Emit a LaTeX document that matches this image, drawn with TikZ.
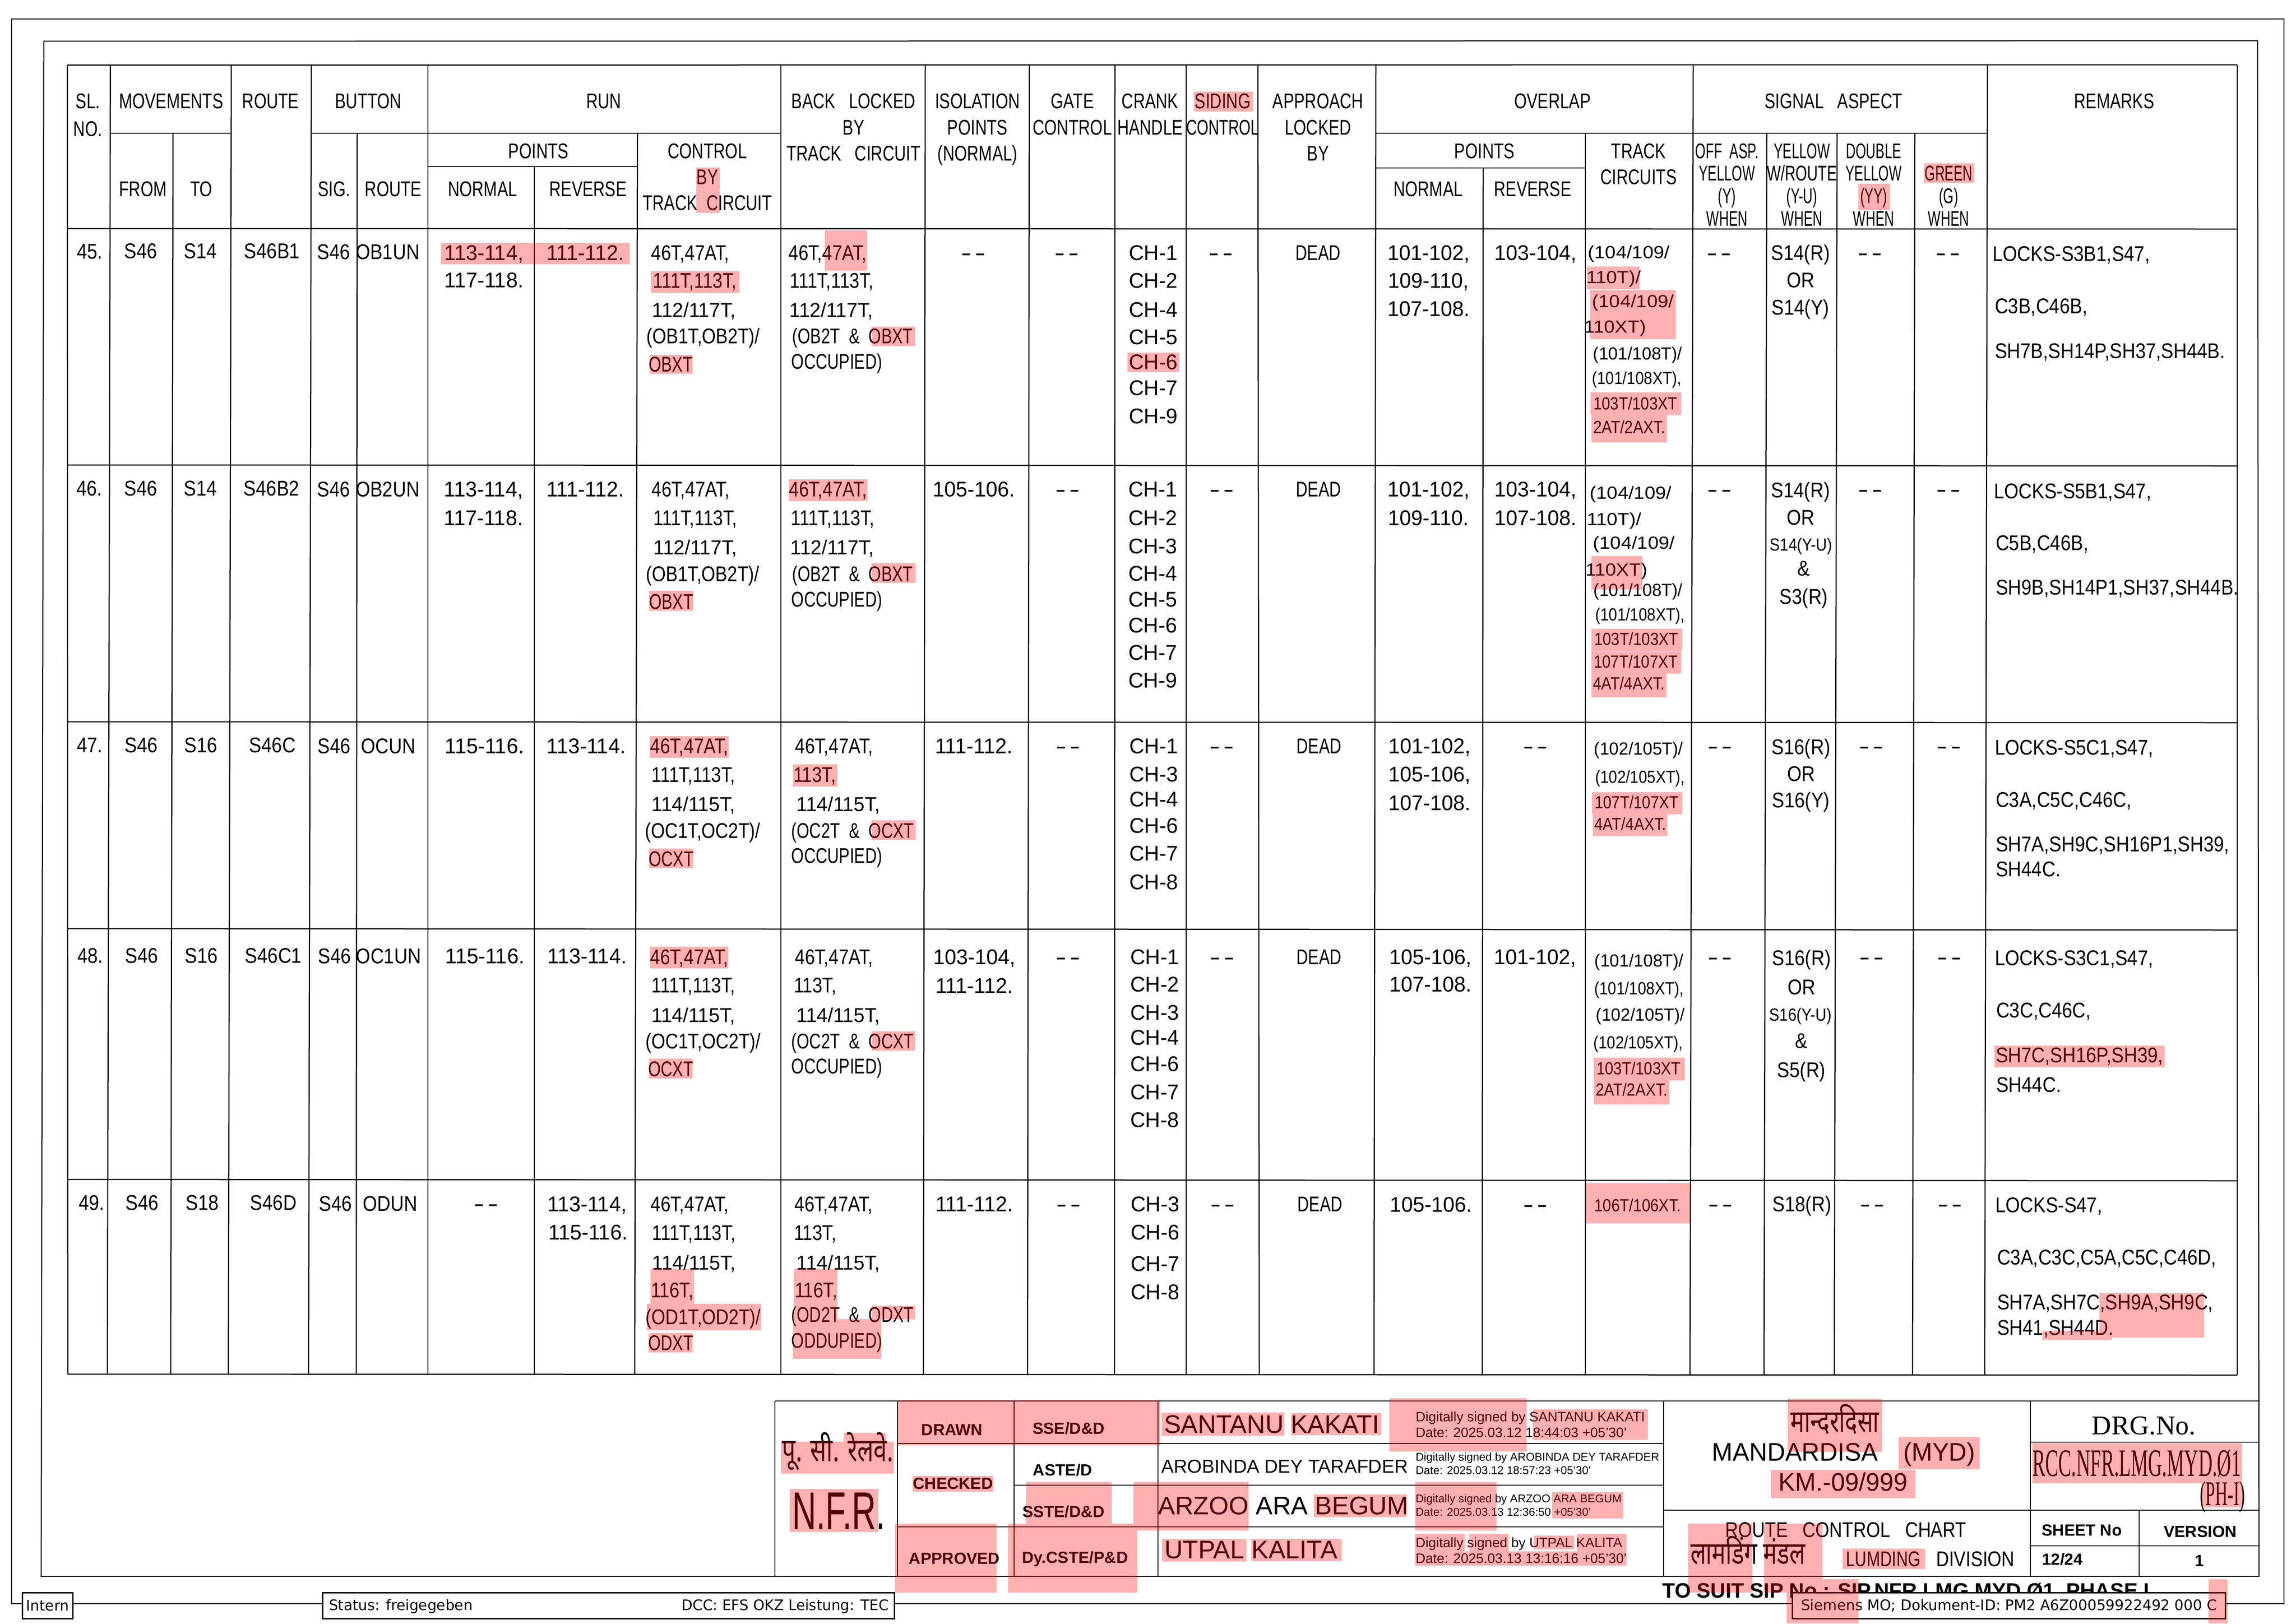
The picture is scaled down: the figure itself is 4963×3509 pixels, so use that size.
\documentclass[tikz,border=0pt]{standalone}
\usepackage{fontspec}
\setmainfont{Liberation Sans}
\newfontfamily\isoa[FakeStretch=0.76]{Liberation Sans}
\newfontfamily\isob[FakeStretch=0.87]{Liberation Sans}
\newfontfamily\isoc[FakeStretch=0.98]{Liberation Sans}
\newfontfamily\isoe[FakeStretch=1.1]{Liberation Sans}
\newfontfamily\isom[FakeStretch=0.84]{Liberation Sans}
\newfontfamily\isoy[FakeStretch=0.7]{Liberation Sans}
\newfontfamily\isoz[FakeStretch=0.63]{Liberation Sans}
\newfontfamily\isow[FakeStretch=1.5]{Liberation Sans}
\newfontfamily\titlefont{Liberation Serif}
\newfontfamily\drgfont[FakeStretch=0.5]{Liberation Serif}
\newfontfamily\stampfont[FakeStretch=0.99]{DejaVu Sans}
\newfontfamily\devfont[Script=Devanagari,FakeStretch=0.74]{Noto Sans}
\begin{document}
\begin{tikzpicture}[x=0.2pt,y=-0.2pt]
    \tikzstyle{lbl} = [anchor=base, inner sep=0pt]
    \tikzstyle{hda} = [lbl, font=\isoa\fontsize{9.2}{11}\selectfont]
    \tikzstyle{hdy} = [lbl, font=\isoy\fontsize{9.2}{11}\selectfont]
    \tikzstyle{hdz} = [lbl, font=\isoz\fontsize{9.2}{11}\selectfont]
    \tikzstyle{txa} = [lbl, font=\isoa\fontsize{9.2}{11}\selectfont]
    \tikzstyle{txm} = [lbl, font=\isom\fontsize{9.2}{11}\selectfont]
    \tikzstyle{txb} = [lbl, font=\isob\fontsize{9.2}{11}\selectfont]
    \tikzstyle{txn} = [lbl, font=\isoc\fontsize{8.7}{11}\selectfont]
    \tikzstyle{txc} = [lbl, font=\isoc\fontsize{9.2}{11}\selectfont]
    \tikzstyle{nil} = [lbl, font=\isow\fontsize{9.2}{11}\selectfont]
    \tikzstyle{tcb} = [lbl, font=\isob\fontsize{7.6}{9}\selectfont]
    \tikzstyle{tcc} = [lbl, font=\isoc\fontsize{7.6}{9}\selectfont]
    \tikzstyle{tce} = [lbl, font=\isoe\fontsize{7.6}{9}\selectfont]
    \tikzstyle{rmk} = [lbl, anchor=base west, font=\isob\fontsize{9.2}{11}\selectfont]
    \tikzstyle{bld} = [lbl, font=\bfseries\fontsize{7}{9}\selectfont]
    \tikzstyle{nam} = [lbl, font=\fontsize{11}{13}\selectfont]
    \tikzstyle{sig} = [lbl, anchor=base west, font=\fontsize{5.9}{7}\selectfont]
    \tikzstyle{sgs} = [lbl, anchor=base west, font=\fontsize{4.9}{6}\selectfont]
    \tikzstyle{stamp} = [draw, fill=white, line width=.6pt, minimum height=11.2pt, inner sep=0pt, anchor=north west, font=\stampfont\fontsize{6.3}{8}\selectfont]
    \tikzstyle{grid} = [line width=.5pt]
    \tikzstyle{hl} = [fill=red, fill opacity=.31]
    \useasboundingbox (0,0) rectangle (4963,3509);
    % sheet frames
    \draw[line width=.4pt] (25,41) rectangle (4937,3466);
    \draw[line width=.45pt] (94.7,89) -- (4880,88) -- (4883,3407) -- (89,3407) -- cycle;
    % table rules
    \draw[grid] (145.5,140.7) -- (4836,140);
    \draw[grid] (145.5,494) -- (4836,495);
    \draw[grid] (146,1005) -- (4836,1007);
    \draw[grid] (146,1560) -- (4836,1562);
    \draw[grid] (146,2007) -- (4836,2010);
    \draw[grid] (146,2549) -- (4836,2552);
    \draw[grid] (146.6,2970) -- (4836,2972);
    \draw[grid] (238.7,288) -- (500,288);
    \draw[grid] (673,288) -- (1688,288);
    \draw[grid] (2974,288) -- (4296,288);
    \draw[grid] (925,360) -- (1378,360);
    \draw[grid] (2974,363) -- (3427,363);
    \draw[grid] (145.5,140.7) -- (146.6,2970);
    \draw[grid] (238.7,140.7) -- (232,2970);
    \draw[grid] (374,288) -- (369,2970);
    \draw[grid] (500,140.7) -- (493.5,2970);
    \draw[grid] (673,140.7) -- (667,2970);
    \draw[grid] (772,288) -- (770,2970);
    \draw[grid] (925,140.7) -- (925,2970);
    \draw[grid] (1155,360) -- (1155,2970);
    \draw[grid] (1378,288) -- (1372,2970);
    \draw[grid] (1688,140.7) -- (1688,2970);
    \draw[grid] (2000,140.7) -- (1996,2970);
    \draw[grid] (2225,140.7) -- (2221,2970);
    \draw[grid] (2410,140.7) -- (2409,2970);
    \draw[grid] (2564,140.7) -- (2564,2970);
    \draw[grid] (2719,140.7) -- (2722,2970);
    \draw[grid] (2974,140.7) -- (2970,2970);
    \draw[grid] (3206,363) -- (3204,2971);
    \draw[grid] (3427,288) -- (3427,2971);
    \draw[grid] (3660,140) -- (3653,2971);
    \draw[grid] (3819,288) -- (3813,2971);
    \draw[grid] (3971,288) -- (3965,2971);
    \draw[grid] (4139,288) -- (4134,2971);
    \draw[grid] (4296,140) -- (4290,2971);
    \draw[grid] (4836,140) -- (4836,2972);
    % heading
    \node[hda] (slno) at (190,234.5) {SL.};
    \node[hda] (slnob) at (190,294) {NO.};
    \node[hda] (moves) at (370,234.5) {MOVEMENTS};
    \node[hda] (from) at (309,424) {FROM};
    \node[hda] (to) at (435,424) {TO};
    \node[hda] (route) at (585,234.5) {ROUTE};
    \node[hda] (button) at (796,234.5) {BUTTON};
    \node[hda] (btnsig) at (722,424) {SIG.};
    \node[hda] (btnroute) at (850,424) {ROUTE};
    \node[hda] (run) at (1305,234.5) {RUN};
    \node[hda] (runpts) at (1164,342) {POINTS};
    \node[hda] (runnrm) at (1043,424) {NORMAL};
    \node[hda] (runrev) at (1271,424) {REVERSE};
    \node[hda] (ctla) at (1529,342) {CONTROL};
    \node[hda] (ctlb) at (1529,398) {BY};
    \node[hda] (ctlc) at (1529,454.5) {TRACK\ \ CIRCUIT};
    \node[hda] (bcka) at (1845,234.5) {BACK\ \ \ LOCKED};
    \node[hda] (bckb) at (1845,291) {BY};
    \node[hda] (bckc) at (1845,347) {TRACK\ \ \ CIRCUIT};
    \node[hda] (isoa) at (2113,234.5) {ISOLATION};
    \node[hda] (isob) at (2113,291) {POINTS};
    \node[hda] (isoc) at (2113,347) {(NORMAL)};
    \node[hda] (gatea) at (2318,234.5) {GATE};
    \node[hda] (gateb) at (2318,291) {CONTROL};
    \node[hda] (cranka) at (2486,234.5) {CRANK};
    \node[hda] (crankb) at (2486,291) {HANDLE};
    \node[hda] (sida) at (2643,234.5) {SIDING};
    \node[hdy] (sidb) at (2643,291) {CONTROL};
    \node[hda] (appa) at (2849,234.5) {APPROACH};
    \node[hda] (appb) at (2849,291) {LOCKED};
    \node[hda] (appc) at (2849,347) {BY};
    \node[hda] (over) at (3356,234.5) {OVERLAP};
    \node[hda] (ovpts) at (3209,342) {POINTS};
    \node[hda] (ovnrm) at (3087,424) {NORMAL};
    \node[hda] (ovrev) at (3313,424) {REVERSE};
    \node[hda] (trka) at (3542,342) {TRACK};
    \node[hda] (trkb) at (3542,398) {CIRCUITS};
    \node[hda] (aspect) at (3963,234.5) {SIGNAL\ \ \ ASPECT};
    \node[hdz] (offa) at (3733,342) {OFF\ \ ASP.};
    \node[hdz] (offb) at (3733,390) {YELLOW};
    \node[hdz] (offc) at (3733,439) {(Y)};
    \node[hdz] (offd) at (3733,488) {WHEN};
    \node[hdz] (yela) at (3895,342) {YELLOW};
    \node[hdy] (yelb) at (3895,390) {W/ROUTE};
    \node[hdz] (yelc) at (3895,439) {(Y-U)};
    \node[hdz] (yeld) at (3895,488) {WHEN};
    \node[hdz] (dbla) at (4050,342) {DOUBLE};
    \node[hdz] (dblb) at (4050,390) {YELLOW};
    \node[hdz] (dblc) at (4050,439) {(YY)};
    \node[hdz] (dbld) at (4050,488) {WHEN};
    \node[hdz] (grnb) at (4212,390) {GREEN};
    \node[hdz] (grnc) at (4212,439) {(G)};
    \node[hdz] (grnd) at (4212,488) {WHEN};
    \node[hda] (remarks) at (4570,234.5) {REMARKS};
    % row 45
    \node[txb] (sl45) at (194,559) {45.};
    \node[txb] (from45) at (304,558) {S46};
    \node[txb] (to45) at (433,558) {S14};
    \node[txb] (route45) at (588,558) {S46B1};
    \node[txb] (sig45) at (721,560) {S46};
    \node[txb] (btn45) at (838,560) {OB1UN};
    \node[txc] (nrm45a) at (1046,562) {113-114,};
    \node[txc] (nrm45b) at (1046,621) {117-118.};
    \node[txc] (rev45a) at (1265,562) {111-112.};
    \node[txm] (ctl45a) at (1492,562) {46T,47AT,};
    \node[txm] (ctl45b) at (1502,622) {111T,113T,};
    \node[txn] (ctl45c) at (1500,685) {112/117T,};
    \node[txm] (ctl45d) at (1520,742) {(OB1T,OB2T)/};
    \node[txa] (ctl45e) at (1450,803) {OBXT};
    \node[txm] (bck45a) at (1789,562) {46T,47AT,};
    \node[txm] (bck45b) at (1798,622) {111T,113T,};
    \node[txn] (bck45c) at (1797,685) {112/117T,};
    \node[txa] (bck45d) at (1843,742) {(OB2T\ \ \&\ \ OBXT};
    \node[txa] (bck45e) at (1809,797) {OCCUPIED)};
    \node[nil] (iso45) at (2104,562) {-\,-};
    \node[nil] (gate45) at (2306,562) {-\,-};
    \node[txc] (ch45a) at (2493,562) {CH-1};
    \node[txc] (ch45b) at (2493,622) {CH-2};
    \node[txc] (ch45c) at (2493,685) {CH-4};
    \node[txc] (ch45d) at (2493,744) {CH-5};
    \node[txc] (ch45e) at (2493,798) {CH-6};
    \node[txc] (ch45f) at (2493,854) {CH-7};
    \node[txc] (ch45g) at (2493,915) {CH-9};
    \node[nil] (sid45) at (2639,562) {-\,-};
    \node[txa] (app45) at (2849,562) {DEAD};
    \node[txc] (onr45a) at (3088,562) {101-102,};
    \node[txc] (onr45b) at (3088,622) {109-110,};
    \node[txc] (onr45c) at (3088,683) {107-108.};
    \node[txc] (orv45a) at (3319,562) {103-104,};
    \node[tce] (trk45a) at (3521,558) {(104/109/};
    \node[tce] (trk45b) at (3488,612) {110T)/};
    \node[tce] (trk45c) at (3530,664) {(104/109/};
    \node[tce] (trk45d) at (3491,719) {110XT)};
    \node[tcc] (trk45e) at (3540,777) {(101/108T)/};
    \node[tcb] (trk45f) at (3538,830) {(101/108XT),};
    \node[tcb] (trk45g) at (3535,885) {103T/103XT};
    \node[tcb] (trk45h) at (3522,936) {2AT/2AXT.};
    \node[nil] (off45) at (3716,562) {-\,-};
    \node[txb] (yel45a) at (3892,562) {S14(R)};
    \node[txb] (yel45b) at (3892,621) {OR};
    \node[txb] (yel45c) at (3892,680) {S14(Y)};
    \node[nil] (dbl45) at (4042,562) {-\,-};
    \node[nil] (grn45) at (4211,562) {-\,-};
    \node[rmk] (rmk45a) at (4306,564) {LOCKS-S3B1,S47,};
    \node[rmk] (rmk45b) at (4311,677) {C3B,C46B,};
    \node[rmk] (rmk45c) at (4311,774) {SH7B,SH14P,SH37,SH44B.};
    % row 46
    \node[txb] (sl46) at (193,1071) {46.};
    \node[txb] (from46) at (304,1071) {S46};
    \node[txb] (to46) at (433,1071) {S14};
    \node[txb] (route46) at (587,1071) {S46B2};
    \node[txb] (sig46) at (721,1073) {S46};
    \node[txb] (btn46) at (838,1073) {OB2UN};
    \node[txc] (nrm46a) at (1045,1073) {113-114,};
    \node[txc] (nrm46b) at (1045,1135) {117-118.};
    \node[txc] (rev46a) at (1265,1073) {111-112.};
    \node[txm] (ctl46a) at (1493,1073) {46T,47AT,};
    \node[txm] (ctl46b) at (1503,1135) {111T,113T,};
    \node[txn] (ctl46c) at (1503,1198) {112/117T,};
    \node[txm] (ctl46d) at (1519,1256) {(OB1T,OB2T)/};
    \node[txa] (ctl46e) at (1451,1316) {OBXT};
    \node[txm] (bck46a) at (1790,1073) {46T,47AT,};
    \node[txm] (bck46b) at (1800,1135) {111T,113T,};
    \node[txn] (bck46c) at (1799,1198) {112/117T,};
    \node[txa] (bck46d) at (1843,1256) {(OB2T\ \ \&\ \ OBXT};
    \node[txa] (bck46e) at (1809,1311) {OCCUPIED)};
    \node[txc] (iso46) at (2105,1073) {105-106.};
    \node[nil] (gate46) at (2308,1073) {-\,-};
    \node[txc] (ch46a) at (2492,1073) {CH-1};
    \node[txc] (ch46b) at (2492,1135) {CH-2};
    \node[txc] (ch46c) at (2492,1196) {CH-3};
    \node[txc] (ch46d) at (2492,1255) {CH-4};
    \node[txc] (ch46e) at (2492,1311) {CH-5};
    \node[txc] (ch46f) at (2492,1367) {CH-6};
    \node[txc] (ch46g) at (2492,1426) {CH-7};
    \node[txc] (ch46h) at (2492,1486) {CH-9};
    \node[nil] (sid46) at (2641,1073) {-\,-};
    \node[txa] (app46) at (2850,1073) {DEAD};
    \node[txc] (onr46a) at (3088,1073) {101-102,};
    \node[txc] (onr46b) at (3088,1135) {109-110.};
    \node[txc] (orv46a) at (3319,1073) {103-104,};
    \node[txc] (orv46b) at (3319,1135) {107-108.};
    \node[tce] (trk46a) at (3525,1078) {(104/109/};
    \node[tce] (trk46b) at (3489,1135) {110T)/};
    \node[tce] (trk46c) at (3532,1186) {(104/109/};
    \node[tce] (trk46d) at (3494,1244) {110XT)};
    \node[tcc] (trk46e) at (3541,1288) {(101/108T)/};
    \node[tcb] (trk46f) at (3545,1341) {(101/108XT),};
    \node[tcb] (trk46g) at (3537,1394) {103T/103XT};
    \node[tcb] (trk46h) at (3536,1443) {107T/107XT};
    \node[tcb] (trk46i) at (3521,1490) {4AT/4AXT.};
    \node[nil] (off46) at (3717,1073) {-\,-};
    \node[txb] (yel46a) at (3892,1075) {S14(R)};
    \node[txb] (yel46b) at (3892,1134) {OR};
    \node[tcb] (yel46c) at (3893,1190) {S14(Y-U)};
    \node[txb] (yel46d) at (3899,1244) {\&};
    \node[txb] (yel46e) at (3899,1305) {S3(R)};
    \node[nil] (dbl46) at (4043,1073) {-\,-};
    \node[nil] (grn46) at (4212,1073) {-\,-};
    \node[rmk] (rmk46a) at (4309,1077) {LOCKS-S5B1,S47,};
    \node[rmk] (rmk46b) at (4313,1189) {C5B,C46B,};
    \node[rmk] (rmk46c) at (4313,1285) {SH9B,SH14P1,SH37,SH44B.};
    % row 47
    \node[txb] (sl47) at (194,1626) {47.};
    \node[txb] (from47) at (305,1626) {S46};
    \node[txb] (to47) at (434,1626) {S16};
    \node[txb] (route47) at (589,1626) {S46C};
    \node[txb] (sig47) at (722,1628) {S46};
    \node[txb] (btn47) at (839,1628) {OCUN};
    \node[txc] (nrm47a) at (1047,1628) {115-116.};
    \node[txc] (rev47a) at (1267,1628) {113-114.};
    \node[txm] (ctl47a) at (1490,1628) {46T,47AT,};
    \node[txm] (ctl47b) at (1499,1690) {111T,113T,};
    \node[txn] (ctl47c) at (1499,1753) {114/115T,};
    \node[txm] (ctl47d) at (1519,1811) {(OC1T,OC2T)/};
    \node[txa] (ctl47e) at (1451,1872) {OCXT};
    \node[txm] (bck47a) at (1803,1628) {46T,47AT,};
    \node[txm] (bck47b) at (1761,1690) {113T,};
    \node[txn] (bck47c) at (1812,1753) {114/115T,};
    \node[txa] (bck47d) at (1843,1811) {(OC2T\ \ \&\ \ OCXT};
    \node[txa] (bck47e) at (1809,1865) {OCCUPIED)};
    \node[txc] (iso47) at (2105,1628) {111-112.};
    \node[nil] (gate47) at (2309,1628) {-\,-};
    \node[txc] (ch47a) at (2494,1628) {CH-1};
    \node[txc] (ch47b) at (2494,1689) {CH-3};
    \node[txc] (ch47c) at (2494,1743) {CH-4};
    \node[txc] (ch47d) at (2494,1800) {CH-6};
    \node[txc] (ch47e) at (2494,1860) {CH-7};
    \node[txc] (ch47f) at (2494,1922) {CH-8};
    \node[nil] (sid47) at (2641,1628) {-\,-};
    \node[txa] (app47) at (2851,1628) {DEAD};
    \node[txc] (onr47a) at (3090,1628) {101-102,};
    \node[txc] (onr47b) at (3090,1689) {105-106,};
    \node[txc] (onr47c) at (3090,1751) {107-108.};
    \node[nil] (orv47a) at (3319,1628) {-\,-};
    \node[tcc] (trk47a) at (3542,1631) {(102/105T)/};
    \node[tcb] (trk47b) at (3545,1692) {(102/105XT),};
    \node[tcb] (trk47c) at (3538,1747) {107T/107XT};
    \node[tcb] (trk47d) at (3524,1794) {4AT/4AXT.};
    \node[nil] (off47) at (3718,1628) {-\,-};
    \node[txb] (yel47a) at (3893,1630) {S16(R)};
    \node[txb] (yel47b) at (3893,1688) {OR};
    \node[txb] (yel47c) at (3893,1745) {S16(Y)};
    \node[nil] (dbl47) at (4045,1628) {-\,-};
    \node[nil] (grn47) at (4213,1628) {-\,-};
    \node[rmk] (rmk47a) at (4311,1631) {LOCKS-S5C1,S47,};
    \node[rmk] (rmk47b) at (4313,1744) {C3A,C5C,C46C,};
    \node[rmk] (rmk47c) at (4313,1840) {SH7A,SH9C,SH16P1,SH39,};
    \node[rmk] (rmk47d) at (4313,1894) {SH44C.};
    % row 48
    \node[txb] (sl48) at (195,2081) {48.};
    \node[txb] (from48) at (306,2081) {S46};
    \node[txb] (to48) at (435,2081) {S16};
    \node[txb] (route48) at (591,2081) {S46C1};
    \node[txb] (sig48) at (723,2082) {S46};
    \node[txb] (btn48) at (840,2082) {OC1UN};
    \node[txc] (nrm48a) at (1048,2082) {115-116.};
    \node[txc] (rev48a) at (1269,2082) {113-114.};
    \node[txm] (ctl48a) at (1490,2084) {46T,47AT,};
    \node[txm] (ctl48b) at (1499,2145) {111T,113T,};
    \node[txn] (ctl48c) at (1499,2209) {114/115T,};
    \node[txm] (ctl48d) at (1520,2266) {(OC1T,OC2T)/};
    \node[txa] (ctl48e) at (1450,2326) {OCXT};
    \node[txm] (bck48a) at (1803,2084) {46T,47AT,};
    \node[txm] (bck48b) at (1762,2145) {113T,};
    \node[txn] (bck48c) at (1812,2209) {114/115T,};
    \node[txa] (bck48d) at (1843,2266) {(OC2T\ \ \&\ \ OCXT};
    \node[txa] (bck48e) at (1809,2320) {OCCUPIED)};
    \node[txc] (iso48a) at (2106,2084) {103-104,};
    \node[txc] (iso48b) at (2106,2146) {111-112.};
    \node[nil] (gate48) at (2309,2084) {-\,-};
    \node[txc] (ch48a) at (2496,2084) {CH-1};
    \node[txc] (ch48b) at (2496,2143) {CH-2};
    \node[txc] (ch48c) at (2496,2204) {CH-3};
    \node[txc] (ch48d) at (2496,2258) {CH-4};
    \node[txc] (ch48e) at (2496,2315) {CH-6};
    \node[txc] (ch48f) at (2496,2376) {CH-7};
    \node[txc] (ch48g) at (2496,2436) {CH-8};
    \node[nil] (sid48) at (2642,2084) {-\,-};
    \node[txa] (app48) at (2851,2084) {DEAD};
    \node[txc] (onr48a) at (3092,2084) {105-106,};
    \node[txc] (onr48b) at (3092,2143) {107-108.};
    \node[txc] (orv48a) at (3318,2084) {101-102,};
    \node[tcc] (trk48a) at (3543,2089) {(101/108T)/};
    \node[tcb] (trk48b) at (3543,2149) {(101/108XT),};
    \node[tcc] (trk48c) at (3546,2206) {(102/105T)/};
    \node[tcb] (trk48d) at (3541,2266) {(102/105XT),};
    \node[tcb] (trk48e) at (3542,2322) {103T/103XT};
    \node[tcb] (trk48f) at (3527,2368) {2AT/2AXT.};
    \node[nil] (off48) at (3718,2084) {-\,-};
    \node[txb] (yel48a) at (3894,2086) {S16(R)};
    \node[txb] (yel48b) at (3894,2149) {OR};
    \node[tcb] (yel48c) at (3892,2206) {S16(Y-U)};
    \node[txb] (yel48d) at (3894,2265) {\&};
    \node[txb] (yel48e) at (3894,2328) {S5(R)};
    \node[nil] (dbl48) at (4046,2084) {-\,-};
    \node[nil] (grn48) at (4214,2084) {-\,-};
    \node[rmk] (rmk48a) at (4311,2086) {LOCKS-S3C1,S47,};
    \node[rmk] (rmk48b) at (4314,2199) {C3C,C46C,};
    \node[rmk] (rmk48c) at (4313,2296) {SH7C,SH16P,SH39,};
    \node[rmk] (rmk48d) at (4314,2360) {SH44C.};
    % row 49
    \node[txb] (sl49) at (198,2615) {49.};
    \node[txb] (from49) at (307,2615) {S46};
    \node[txb] (to49) at (437,2615) {S18};
    \node[txb] (route49) at (591,2615) {S46D};
    \node[txb] (sig49) at (725,2617) {S46};
    \node[txb] (btn49) at (843,2617) {ODUN};
    \node[nil] (nrm49a) at (1051,2617) {-\,-};
    \node[txc] (rev49a) at (1269,2618) {113-114,};
    \node[txc] (rev49b) at (1271,2679) {115-116.};
    \node[txm] (ctl49a) at (1491,2618) {46T,47AT,};
    \node[txm] (ctl49b) at (1500,2680) {111T,113T,};
    \node[txn] (ctl49c) at (1500,2744) {114/115T,};
    \node[txm] (ctl49d) at (1453,2804) {116T,};
    \node[txm] (ctl49e) at (1520,2862) {(OD1T,OD2T)/};
    \node[txa] (ctl49f) at (1450,2918) {ODXT};
    \node[txm] (bck49a) at (1802,2618) {46T,47AT,};
    \node[txm] (bck49b) at (1762,2680) {113T,};
    \node[txn] (bck49c) at (1812,2744) {114/115T,};
    \node[txm] (bck49d) at (1764,2804) {116T,};
    \node[txa] (bck49e) at (1843,2857) {(OD2T\ \ \&\ \ ODXT};
    \node[txa] (bck49f) at (1809,2913) {ODDUPIED)};
    \node[txc] (iso49) at (2106,2618) {111-112.};
    \node[nil] (gate49) at (2310,2618) {-\,-};
    \node[txc] (ch49a) at (2497,2618) {CH-3};
    \node[txc] (ch49b) at (2497,2679) {CH-6};
    \node[txc] (ch49c) at (2497,2747) {CH-7};
    \node[txc] (ch49d) at (2497,2808) {CH-8};
    \node[nil] (sid49) at (2643,2618) {-\,-};
    \node[txa] (app49) at (2853,2618) {DEAD};
    \node[txc] (onr49a) at (3093,2619) {105-106.};
    \node[nil] (orv49a) at (3319,2619) {-\,-};
    \node[tcb] (trk49a) at (3540,2618) {106T/106XT.};
    \node[nil] (off49) at (3719,2618) {-\,-};
    \node[txb] (yel49a) at (3895,2618) {S18(R)};
    \node[nil] (dbl49) at (4047,2618) {-\,-};
    \node[nil] (grn49) at (4215,2618) {-\,-};
    \node[rmk] (rmk49a) at (4312,2620) {LOCKS-S47,};
    \node[rmk] (rmk49b) at (4316,2733) {C3A,C3C,C5A,C5C,C46D,};
    \node[rmk] (rmk49c) at (4316,2830) {SH7A,SH7C,SH9A,SH9C,};
    \node[rmk] (rmk49d) at (4316,2885) {SH41,SH44D.};
    % title block rules
    \draw[grid] (1675,3028) -- (4883,3028);
    \draw[grid] (1675,3028) -- (1675,3407);
    \draw[grid] (1940,3028) -- (1940,3407);
    \draw[grid] (2192,3028) -- (2192,3407);
    \draw[grid] (2503,3028) -- (2503,3407);
    \draw[grid] (3596,3028) -- (3596,3407);
    \draw[grid] (4389,3028) -- (4389,3407);
    \draw[grid] (4624,3264) -- (4624,3407);
    \draw[grid] (1940,3120) -- (3596,3120);
    \draw[grid] (2192,3210) -- (3596,3210);
    \draw[grid] (1940,3300) -- (3596,3300);
    \draw[grid] (3596,3264) -- (4883,3264);
    \draw[grid] (4389,3117) -- (4883,3117);
    \draw[grid] (4389,3341) -- (4883,3341);
    % title block
    \node[lbl, font=\devfont\fontsize{14}{16}\selectfont] (rail) at (1811,3158) {पू. सी. रेलवे.};
    \node[lbl, font=\fontsize{23}{26}\selectfont\isoz] (nfr) at (1813,3305) {N.F.R.};
    \node[bld] (drawn) at (2058,3102) {DRAWN};
    \node[bld] (checked) at (2060,3218) {CHECKED};
    \node[bld] (approved) at (2063,3380) {APPROVED};
    \node[bld] (ssedd) at (2310,3099) {SSE/D\&D};
    \node[bld] (asted) at (2297,3189) {ASTE/D};
    \node[bld] (sstedd) at (2299,3279) {SSTE/D\&D};
    \node[bld] (dycste) at (2324,3378) {Dy.CSTE/P\&D};
    \node[nam] (santanu) at (2749,3097) {SANTANU KAKATI};
    \node[lbl, font=\fontsize{8.1}{10}\selectfont] (arobinda) at (2777,3183) {AROBINDA DEY TARAFDER};
    \node[nam] (arzoo) at (2774,3273) {ARZOO ARA BEGUM};
    \node[nam] (utpal) at (2704,3368) {UTPAL KALITA};
    \node[sig] (siga) at (3059,3072) {Digitally signed by SANTANU KAKATI};
    \node[sig] (dta) at (3059,3106) {Date: 2025.03.12 18:44:03 +05'30'};
    \node[sgs] (sigb) at (3059,3157) {Digitally signed by AROBINDA DEY TARAFDER};
    \node[sgs] (dtb) at (3059,3186) {Date: 2025.03.12 18:57:23 +05'30'};
    \node[sgs] (sigc) at (3059,3247) {Digitally signed by ARZOO ARA BEGUM};
    \node[sgs] (dtc) at (3059,3276) {Date: 2025.03.13 12:36:50 +05'30'};
    \node[sig] (sigd) at (3059,3344) {Digitally signed by UTPAL KALITA};
    \node[sig] (dtd) at (3059,3378) {Date: 2025.03.13 13:16:16 +05'30'};
    \node[lbl, font=\devfont\fontsize{13.5}{15}\selectfont] (mandev) at (3966,3095) {मान्दरदिसा};
    \node[lbl, font=\isoc\fontsize{11}{13}\selectfont] (mandar) at (3880,3157) {MANDARDISA};
    \node[lbl, font=\isoc\fontsize{11}{13}\selectfont] (myd) at (4192,3157) {(MYD)};
    \node[lbl, font=\isoc\fontsize{11}{13}\selectfont] (km) at (3984,3222) {KM.-09/999};
    \node[txm] (rcc) at (3990,3322) {ROUTE\ \ \ CONTROL\ \ \ CHART};
    \node[lbl, font=\devfont\fontsize{13.5}{15}\selectfont] (lmgdev) at (3778,3380) {लामडिंग मंडल};
    \node[hda] (lumding) at (4071,3385) {LUMDING};
    \node[txm] (division) at (4270,3385) {DIVISION};
    \node[lbl, font=\titlefont\fontsize{11.7}{14}\selectfont] (drg) at (4634,3100) {DRG.No.};
    \node[lbl, font=\drgfont\fontsize{16.8}{20}\selectfont] (drgno) at (4619,3190) {RCC.NFR.LMG.MYD.Ø1};
    \node[lbl, font=\drgfont\fontsize{15}{18}\selectfont] (phase) at (4804,3253) {(PH-I)};
    \node[bld] (sheet) at (4500,3319) {SHEET No};
    \node[bld] (version) at (4756,3322) {VERSION};
    \node[bld] (sheetno) at (4458,3382) {12/24};
    \node[bld] (verno) at (4754,3385) {1};
    \node[lbl, font=\bfseries\fontsize{9}{11}\selectfont] (suit) at (4120,3453) {TO SUIT SIP No.: SIP.NFR.LMG.MYD.Ø1\ \ PHASE I};
    % stamps
    \node[stamp, minimum width=21.8pt] (intern) at (47,3441) {Intern};
    \node[stamp, minimum width=247.2pt] (status) at (696,3441) {};
    \node[lbl, anchor=base west, font=\stampfont\fontsize{6.3}{8}\selectfont] (statusa) at (710,3480) {Status: freigegeben};
    \node[lbl, anchor=base east, font=\stampfont\fontsize{6.3}{8}\selectfont] (statusb) at (1922,3480) {DCC: EFS OKZ Leistung: TEC};
    \node[stamp, minimum width=187.2pt] (dokument) at (3873,3441) {Siemens MO; Dokument-ID: PM2 A6Z00059922492 000 C};
    % markups
    \fill[hl] (1505,362) rectangle (1556,460);
    \fill[hl] (2581,198) rectangle (2708,241);
    \fill[hl] (4159,353) rectangle (4267,395);
    \fill[hl] (4017,397) rectangle (4085,454);
    \fill[hl] (953,525) rectangle (1361,571);
    \fill[hl] (1407,586) rectangle (1598,633);
    \fill[hl] (1404,767) rectangle (1497,808);
    \fill[hl] (1783,498) rectangle (1874,585);
    \fill[hl] (1884,706) rectangle (1978,748);
    \fill[hl] (2437,762) rectangle (2549,804);
    \fill[hl] (3430,576) rectangle (3544,625);
    \fill[hl] (3437,627) rectangle (3622,733);
    \fill[hl] (3438,848) rectangle (3634,897);
    \fill[hl] (3440,897) rectangle (3603,956);
    \fill[hl] (1403,1277) rectangle (1498,1320);
    \fill[hl] (1705,1036) rectangle (1875,1083);
    \fill[hl] (1884,1217) rectangle (1979,1260);
    \fill[hl] (3440,1202) rectangle (3550,1274);
    \fill[hl] (3440,1359) rectangle (3636,1407);
    \fill[hl] (3440,1408) rectangle (3634,1456);
    \fill[hl] (3440,1456) rectangle (3602,1507);
    \fill[hl] (1405,1591) rectangle (1575,1638);
    \fill[hl] (1403,1834) rectangle (1498,1876);
    \fill[hl] (1714,1652) rectangle (1810,1700);
    \fill[hl] (1884,1773) rectangle (1979,1815);
    \fill[hl] (3441,1712) rectangle (3636,1760);
    \fill[hl] (3443,1760) rectangle (3604,1807);
    \fill[hl] (1405,2046) rectangle (1574,2093);
    \fill[hl] (1403,2288) rectangle (1497,2331);
    \fill[hl] (1884,2229) rectangle (1978,2271);
    \fill[hl] (3445,2286) rectangle (3642,2335);
    \fill[hl] (3446,2335) rectangle (3608,2387);
    \fill[hl] (4311,2260) rectangle (4679,2307);
    \fill[hl] (1406,2743) rectangle (1500,2818);
    \fill[hl] (1398,2818) rectangle (1645,2875);
    \fill[hl] (1402,2881) rectangle (1497,2923);
    \fill[hl] (1716,2743) rectangle (1810,2851);
    \fill[hl] (1714,2851) rectangle (1905,2937);
    \fill[hl] (1884,2822) rectangle (1978,2851);
    \fill[hl] (3428,2557) rectangle (3653,2644);
    \fill[hl] (4538,2795) rectangle (4764,2891);
    \fill[hl] (4415,2891) rectangle (4565,2896);
    \fill[hl] (4415,2876) rectangle (4538,2891);
    % markups on the title block
    \fill[hl] (1688,3116) rectangle (1932,3185);
    \fill[hl] (1824,3097) rectangle (1915,3116);
    \fill[hl] (1707,3218) rectangle (1898,3311);
    \fill[hl] (1940,3026) rectangle (2508,3124);
    \fill[hl] (1973,3190) rectangle (2147,3224);
    \fill[hl] (1935,3293) rectangle (2154,3442);
    \fill[hl] (2179,3293) rectangle (2458,3442);
    \fill[hl] (2218,3203) rectangle (2403,3293);
    \fill[hl] (2450,3203) rectangle (2699,3293);
    \fill[hl] (2458,3293) rectangle (2699,3308);
    \fill[hl] (2840,3230) rectangle (3040,3279);
    \fill[hl] (2511,3053) rectangle (2776,3103);
    \fill[hl] (2791,3054) rectangle (2986,3102);
    \fill[hl] (3003,3022) rectangle (3300,3137);
    \fill[hl] (3313,3046) rectangle (3562,3112);
    \fill[hl] (3059,3203) rectangle (3235,3308);
    \fill[hl] (3355,3225) rectangle (3509,3282);
    \fill[hl] (3059,3315) rectangle (3166,3353);
    \fill[hl] (3176,3315) rectangle (3261,3353);
    \fill[hl] (3315,3319) rectangle (3403,3349);
    \fill[hl] (3409,3315) rectangle (3516,3353);
    \fill[hl] (3059,3353) rectangle (3516,3384);
    \fill[hl] (2512,3326) rectangle (2694,3375);
    \fill[hl] (2705,3326) rectangle (2900,3374);
    \fill[hl] (3864,3023) rectangle (4068,3138);
    \fill[hl] (4104,3106) rectangle (4279,3175);
    \fill[hl] (3828,3177) rectangle (4140,3238);
    \fill[hl] (3649,3293) rectangle (3788,3442);
    \fill[hl] (3813,3293) rectangle (3939,3413);
    \fill[hl] (3813,3413) rectangle (4017,3442);
    \fill[hl] (3862,3442) rectangle (4017,3509);
    \fill[hl] (3983,3347) rectangle (4161,3391);
    \fill[hl] (4393,3119) rectangle (4846,3206);
    \fill[hl] (4759,3206) rectangle (4846,3258);
    \fill[hl] (4774,3413) rectangle (4815,3509);
\end{tikzpicture}
\end{document}
